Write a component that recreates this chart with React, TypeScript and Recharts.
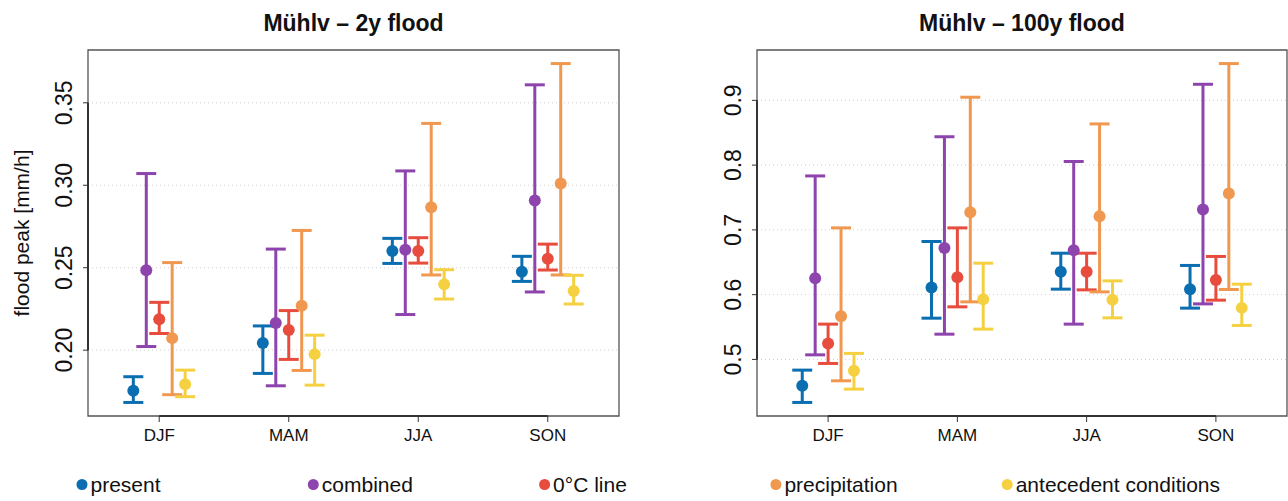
import React from 'react';
import {
  ScatterChart,
  Scatter,
  XAxis,
  YAxis,
  CartesianGrid,
  ErrorBar,
  ReferenceArea,
  ReferenceLine,
} from 'recharts';

// seasons and scenarios
const seasons = ['DJF', 'MAM', 'JJA', 'SON'];
const seriesNames = ['present', 'combined', '0°C line', 'precipitation', 'antecedent conditions'];
const seriesColors = ['#0a6eb0', '#8e44ad', '#e74c3c', '#f0984f', '#f5d142'];
const seriesOffsets = [-0.2, -0.1, 0, 0.1, 0.2];

// 2y flood: median, lower and upper bound per season
const present2Mid = [0.1754, 0.2044, 0.2601, 0.2476];
const present2Lo = [0.1683, 0.1859, 0.2526, 0.2417];
const present2Hi = [0.1839, 0.2147, 0.2678, 0.2569];
const combined2Mid = [0.2484, 0.2165, 0.2609, 0.2907];
const combined2Lo = [0.2022, 0.1784, 0.2216, 0.2353];
const combined2Hi = [0.3071, 0.2613, 0.3087, 0.3609];
const zero2Mid = [0.2188, 0.2123, 0.2601, 0.2555];
const zero2Lo = [0.2101, 0.1944, 0.2528, 0.2486];
const zero2Hi = [0.229, 0.224, 0.2682, 0.2643];
const precip2Mid = [0.2073, 0.227, 0.2867, 0.301];
const precip2Lo = [0.173, 0.1877, 0.2456, 0.2456];
const precip2Hi = [0.2531, 0.2726, 0.3375, 0.3738];
const ante2Mid = [0.1794, 0.1976, 0.2399, 0.2359];
const ante2Lo = [0.1718, 0.1788, 0.231, 0.228];
const ante2Hi = [0.1879, 0.2091, 0.2488, 0.2454];

// 100y flood
const present100Mid = [0.4593, 0.6111, 0.6352, 0.6085];
const present100Lo = [0.4336, 0.5637, 0.6085, 0.5792];
const present100Hi = [0.4835, 0.6821, 0.664, 0.6451];
const combined100Mid = [0.6255, 0.6722, 0.6687, 0.7313];
const combined100Lo = [0.5071, 0.539, 0.5545, 0.5858];
const combined100Hi = [0.7833, 0.8438, 0.8056, 0.9248];
const zero100Mid = [0.5247, 0.627, 0.6352, 0.6228];
const zero100Lo = [0.4938, 0.5812, 0.6074, 0.5915];
const zero100Hi = [0.5545, 0.7031, 0.664, 0.659];
const precip100Mid = [0.5668, 0.7273, 0.7211, 0.7562];
const precip100Lo = [0.467, 0.5889, 0.6043, 0.608];
const precip100Hi = [0.7031, 0.9048, 0.8636, 0.9568];
const ante100Mid = [0.4824, 0.5931, 0.592, 0.5796];
const ante100Lo = [0.4542, 0.5468, 0.5642, 0.5525];
const ante100Hi = [0.5093, 0.6486, 0.6213, 0.6162];

const ticks2 = [0.2, 0.25, 0.3, 0.35];
const ticks100 = [0.5, 0.6, 0.7, 0.8, 0.9];

const FONT = '"Liberation Sans", Arial, Helvetica, sans-serif';
const X_DOMAIN: [number, number] = [0.45, 4.55];

type Series = { mid: number[]; lo: number[]; hi: number[] };

const build = (s: Series, k: number) =>
  s.mid.map((m, i) => ({
    x: i + 1 + seriesOffsets[k],
    y: m,
    err: [m - s.lo[i], s.hi[i] - m],
  }));

// R-style axis range: data range extended by 4% each side
const rDomain = (all: Series[]): [number, number] => {
  const lo = Math.min(...all.flatMap((s) => s.lo));
  const hi = Math.max(...all.flatMap((s) => s.hi));
  const pad = (hi - lo) * 0.04;
  return [lo - pad, hi + pad];
};

const XTick = ({ x, y, payload }: any) => (
  <text x={x} y={y + 19} textAnchor="middle" fontSize={17} fontFamily={FONT} fill="#111">
    {seasons[payload.value - 1]}
  </text>
);

const makeYTick = (digits: number) => ({ x, y, payload }: any) => {
  const bx = x - 11;
  return (
    <text
      x={bx}
      y={y}
      transform={`rotate(-90 ${bx} ${y})`}
      textAnchor="middle"
      fontSize={23}
      fontFamily={FONT}
      fill="#111"
    >
      {Number(payload.value).toFixed(digits)}
    </text>
  );
};

interface PanelProps {
  series: Series[];
  ticks: number[];
  digits: number;
  width: number;
  left: number;
  marginLeft: number;
  marginRight: number;
}

const Panel: React.FC<PanelProps> = ({ series, ticks, digits, width, left, marginLeft, marginRight }) => {
  const dom = rDomain(series);
  const YTick = makeYTick(digits);
  return (
    <div style={{ position: 'absolute', left, top: 0 }}>
      <ScatterChart
        width={width}
        height={501}
        margin={{ top: 50, right: marginRight, bottom: 55, left: marginLeft }}
      >
        <CartesianGrid vertical={false} strokeDasharray="1 3" stroke="#cfcfcf" />
        <XAxis
          type="number"
          dataKey="x"
          domain={X_DOMAIN}
          ticks={[1, 2, 3, 4]}
          allowDataOverflow
          height={30}
          tickSize={6}
          tickMargin={0}
          axisLine={false}
          tickLine={{ stroke: '#333' }}
          tick={<XTick />}
        />
        <YAxis
          type="number"
          dataKey="y"
          domain={dom}
          ticks={ticks}
          allowDataOverflow
          width={48}
          tickSize={5}
          tickMargin={0}
          axisLine={false}
          tickLine={{ stroke: '#333' }}
          tick={<YTick />}
        />
        <ReferenceArea
          x1={X_DOMAIN[0]}
          x2={X_DOMAIN[1]}
          y1={dom[0]}
          y2={dom[1]}
          fill="none"
          fillOpacity={0}
          stroke="#555"
          strokeWidth={1.3}
          ifOverflow="visible"
        />
        <ReferenceLine
          segment={[{ x: 1, y: dom[0] }, { x: 4, y: dom[0] }]}
          stroke="#333"
          strokeWidth={2}
          ifOverflow="visible"
        />
        <ReferenceLine
          segment={[{ x: X_DOMAIN[0], y: ticks[0] }, { x: X_DOMAIN[0], y: ticks[ticks.length - 1] }]}
          stroke="#333"
          strokeWidth={2}
          ifOverflow="visible"
        />
        {series.map((s, k) => (
          <Scatter
            key={seriesNames[k]}
            name={seriesNames[k]}
            data={build(s, k)}
            fill={seriesColors[k]}
            isAnimationActive={false}
            shape={(p: any) => <circle cx={p.cx} cy={p.cy} r={6} fill={seriesColors[k]} />}
          >
            <ErrorBar
              dataKey="err"
              direction="y"
              width={10}
              strokeWidth={3}
              stroke={seriesColors[k]}
              isAnimationActive={false}
            />
          </Scatter>
        ))}
      </ScatterChart>
    </div>
  );
};

const series2: Series[] = [
  { mid: present2Mid, lo: present2Lo, hi: present2Hi },
  { mid: combined2Mid, lo: combined2Lo, hi: combined2Hi },
  { mid: zero2Mid, lo: zero2Lo, hi: zero2Hi },
  { mid: precip2Mid, lo: precip2Lo, hi: precip2Hi },
  { mid: ante2Mid, lo: ante2Lo, hi: ante2Hi },
];

const series100: Series[] = [
  { mid: present100Mid, lo: present100Lo, hi: present100Hi },
  { mid: combined100Mid, lo: combined100Lo, hi: combined100Hi },
  { mid: zero100Mid, lo: zero100Lo, hi: zero100Hi },
  { mid: precip100Mid, lo: precip100Lo, hi: precip100Hi },
  { mid: ante100Mid, lo: ante100Lo, hi: ante100Hi },
];

export default function App() {
  return (
    <div
      style={{
        position: 'absolute',
        left: 0,
        top: 0,
        width: 1288,
        height: 501,
        background: '#fff',
        fontFamily: FONT,
        overflow: 'hidden',
      }}
    >
      <Panel series={series2} ticks={ticks2} digits={2} width={640} left={0} marginLeft={40} marginRight={21} />
      <Panel series={series100} ticks={ticks100} digits={1} width={648} left={640} marginLeft={69} marginRight={1} />

      {/* titles, axis label and legend */}
      <svg
        width={1288}
        height={501}
        style={{ position: 'absolute', left: 0, top: 0, pointerEvents: 'none' }}
      >
        <text x={353.5} y={31} textAnchor="middle" fontSize={23} fontWeight="bold" fontFamily={FONT} fill="#111">
          Mühlv – 2y flood
        </text>
        <text x={1022} y={31} textAnchor="middle" fontSize={23} fontWeight="bold" fontFamily={FONT} fill="#111">
          Mühlv – 100y flood
        </text>
        <text
          x={29}
          y={233}
          transform="rotate(-90 29 233)"
          textAnchor="middle"
          fontSize={21}
          fontFamily={FONT}
          fill="#111"
        >
          flood peak [mm/h]
        </text>
        {seriesNames.map((name, i) => {
          const cx = 82 + i * 231.3;
          return (
            <g key={name}>
              <circle cx={cx} cy={484.5} r={5.5} fill={seriesColors[i]} />
              <text x={cx + 8.5} y={492} fontSize={21} fontFamily={FONT} fill="#111">
                {name}
              </text>
            </g>
          );
        })}
      </svg>
    </div>
  );
}
